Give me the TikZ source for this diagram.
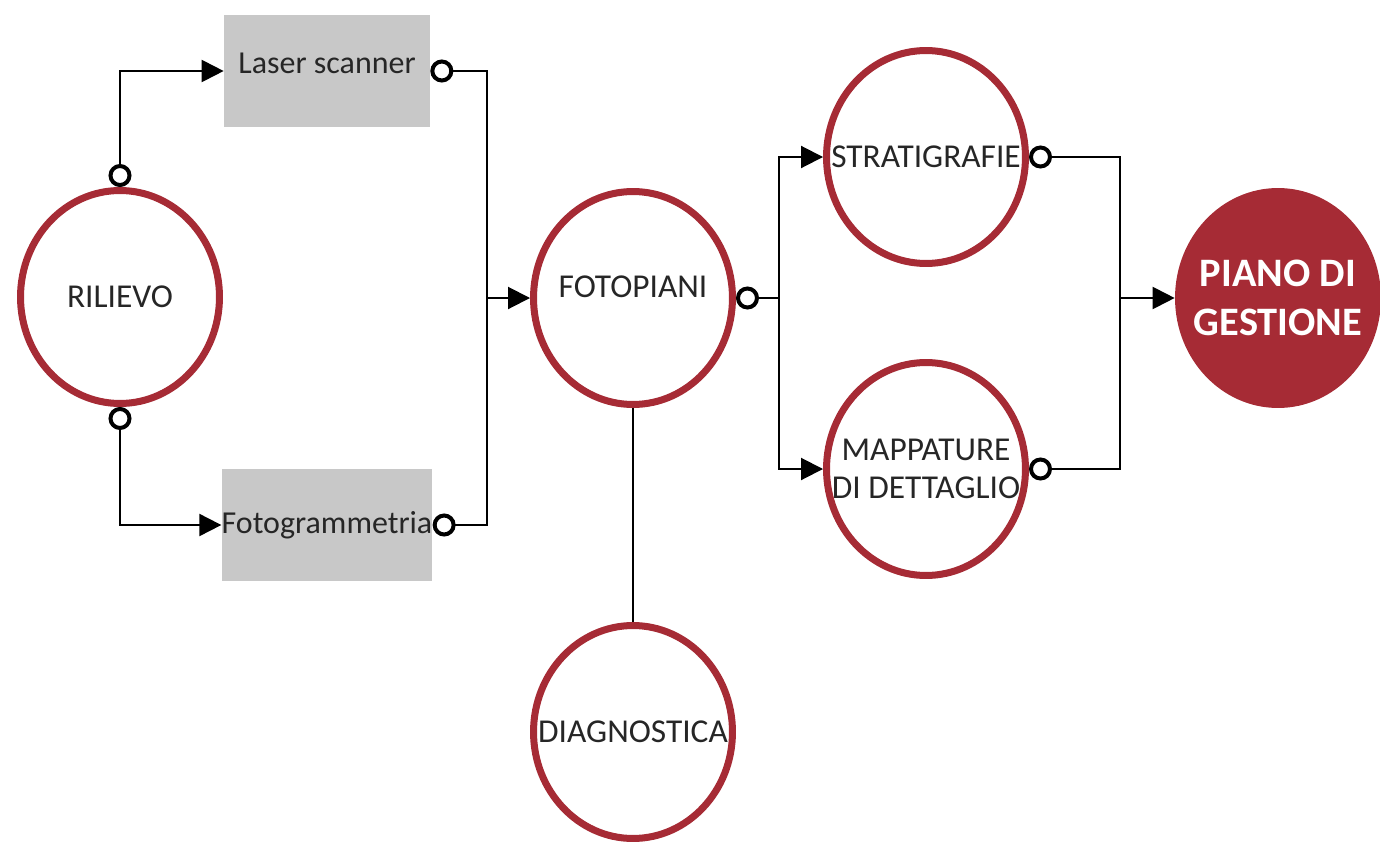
\documentclass[tikz,border=0pt]{standalone}
\usepackage{fontspec}
\setmainfont{Carlito}
\usetikzlibrary{shapes.geometric,arrows.meta}
\definecolor{rosso}{HTML}{A62B35}
\definecolor{grigio}{HTML}{C8C8C8}
\definecolor{testo}{HTML}{262626}

\begin{document}
\begin{tikzpicture}[x=0.02cm,y=-0.02cm,
        fase/.style={ellipse, draw=rosso, line width=0.14cm, minimum width=3.98cm,
            minimum height=4.26cm, inner xsep=-0.8cm, inner ysep=0pt, align=center, text=testo,
            font=\fontsize{19}{22}\selectfont},
        strumento/.style={fill=grigio, minimum width=4.12cm, minimum height=2.24cm,
            inner sep=0pt, text=testo, font=\fontsize{18.2}{21}\selectfont},
        link/.style={line width=0.04cm},
        pallino/.style={link, {Circle[open, length=0.46cm, width=0.46cm, line width=0.08cm]}-},
        freccia/.style={link, -{Triangle[length=0.44cm, width=0.44cm]}},
        entrambi/.style={link, {Circle[open, length=0.46cm, width=0.46cm, line width=0.08cm]}-{Triangle[length=0.44cm, width=0.44cm]}}]
        \useasboundingbox (0,0) rectangle (1380,842);

        \node (R) [fase] at (120,297) {RILIEVO};
        \node (L) [strumento, text depth=0.3cm] at (327,71) {Laser scanner};
        \node (G) [strumento] at (327,525) {Fotogrammetria};
        \node (F) [fase, text depth=0.45cm] at (633,298) {FOTOPIANI};
        \node (D) [fase] at (633,732) {DIAGNOSTICA};
        \node (S) [fase] at (926,157) {STRATIGRAFIE};
        \node (M) [fase] at (926,469) {MAPPATURE\\DI DETTAGLIO};
        \node (P) [ellipse, fill=rosso, minimum width=4.12cm, minimum height=4.4cm,
            inner xsep=-0.8cm, inner ysep=0pt, align=center, text=white,
            font=\fontsize{23}{28}\selectfont\bfseries] at (1278,298) {PIANO DI\\GESTIONE};

        \coordinate (j1) at (487,298);
        \coordinate (j2) at (779,298);
        \coordinate (j3) at (1120,298);

        % rilievo
        \draw[entrambi] (R.north) |- (L.west);
        \draw[entrambi] (R.south) |- (G.west);
        %
        \draw[pallino] (L.east) -| (j1);
        \draw[pallino] (G.east) -| (j1);
        \draw[freccia] (j1) -- (F);
        % fotopiani
        \draw[link] (F) -- (D);
        \draw[pallino] (F.east) -- (j2);
        \draw[freccia] (j2) |- (S.west);
        \draw[freccia] (j2) |- (M.west);
        %
        \draw[pallino] (S.east) -| (j3);
        \draw[pallino] (M.east) -| (j3);
        \draw[freccia] (j3) -- (P);
\end{tikzpicture}
\end{document}
